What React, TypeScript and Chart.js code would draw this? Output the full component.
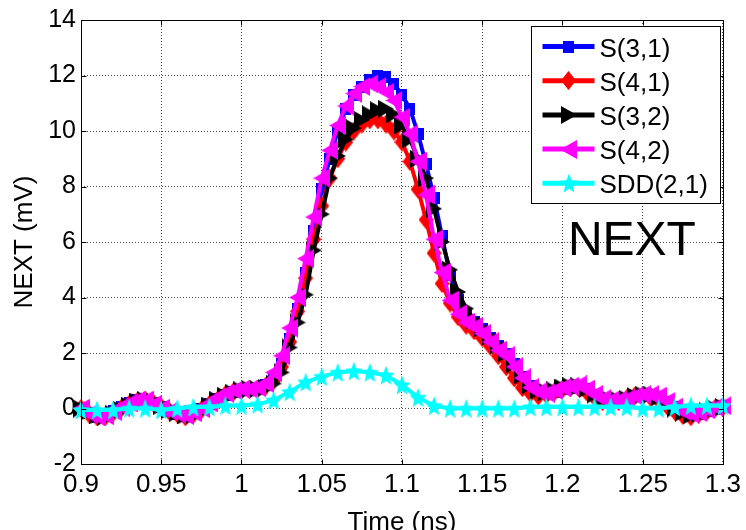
import React, { useEffect, useRef } from 'react';
import { Chart, registerables } from 'chart.js';

Chart.register(...registerables);

// ---------------- DATA ----------------
const timeS = [
  0.900, 0.905, 0.910, 0.915, 0.920, 0.925, 0.930, 0.935, 0.940, 0.945,
  0.950, 0.955, 0.960, 0.965, 0.970, 0.975, 0.980, 0.985, 0.990, 0.995,
  1.000, 1.005, 1.010, 1.015, 1.020, 1.025, 1.030, 1.035, 1.040, 1.045,
  1.050, 1.055, 1.060, 1.065, 1.070, 1.075, 1.080, 1.085, 1.090, 1.095,
  1.100, 1.105, 1.110, 1.115, 1.120, 1.125, 1.130, 1.135, 1.140, 1.145,
  1.150, 1.155, 1.160, 1.165, 1.170, 1.175, 1.180, 1.185, 1.190, 1.195,
  1.200, 1.205, 1.210, 1.215, 1.220, 1.225, 1.230, 1.235, 1.240, 1.245,
  1.250, 1.255, 1.260, 1.265, 1.270, 1.275, 1.280, 1.285, 1.290, 1.295,
  1.300,
];

const s31 = [
  0, -0.15, -0.3, -0.25, -0.1, 0.05, 0.2, 0.3, 0.3, 0.2,
  0.05, -0.1, -0.2, -0.25, -0.15, 0.0, 0.15, 0.35, 0.5, 0.6,
  0.65, 0.7, 0.7, 0.85, 1.1, 1.6, 2.5, 3.6, 4.9, 6.4,
  7.9, 9.0, 10.0, 10.8, 11.3, 11.6, 11.85, 12.0, 11.95, 11.7,
  11.3, 10.8, 9.9, 8.8, 7.6, 6.2, 4.8, 3.9, 3.4, 3.1,
  2.85, 2.55, 2.25, 1.95, 1.6, 1.15, 0.8, 0.6, 0.55, 0.6,
  0.7, 0.75, 0.8, 0.7, 0.5, 0.35, 0.25, 0.3, 0.35, 0.45,
  0.5, 0.5, 0.4, 0.25, 0.05, -0.1, -0.2, -0.2, -0.1, 0.0,
  0.1,
];

const s41 = [
  0, -0.2, -0.3, -0.3, -0.15, 0.0, 0.15, 0.25, 0.3, 0.2,
  0.05, -0.1, -0.2, -0.3, -0.2, -0.05, 0.15, 0.3, 0.5, 0.6,
  0.65, 0.7, 0.7, 0.8, 1.0, 1.5, 2.4, 3.5, 4.7, 6.1,
  7.3, 8.3, 9.0, 9.6, 10.0, 10.25, 10.4, 10.4, 10.25, 10.0,
  9.6, 8.9, 7.9, 6.8, 5.6, 4.5, 3.8, 3.3, 3.0, 2.8,
  2.55, 2.25, 1.9, 1.5, 1.1, 0.75, 0.55, 0.45, 0.5, 0.6,
  0.7, 0.75, 0.75, 0.6, 0.4, 0.25, 0.2, 0.25, 0.35, 0.45,
  0.45, 0.4, 0.3, 0.1, -0.1, -0.25, -0.3, -0.2, -0.1, 0.0,
  0.05,
];

const s32 = [
  0, -0.1, -0.25, -0.3, -0.2, -0.05, 0.1, 0.25, 0.3, 0.25,
  0.1, -0.05, -0.15, -0.25, -0.25, -0.1, 0.1, 0.3, 0.45, 0.55,
  0.65, 0.7, 0.7, 0.75, 0.9, 1.3, 2.2, 3.1, 4.1, 5.7,
  7.0, 8.3, 9.1, 9.7, 10.1, 10.4, 10.6, 10.75, 10.8, 10.6,
  10.2, 9.7, 9.0, 8.3, 7.2, 6.0, 5.0, 4.2, 3.6, 3.2,
  2.9, 2.6, 2.3, 2.0, 1.6, 1.2, 0.85, 0.65, 0.6, 0.65,
  0.75, 0.8, 0.8, 0.7, 0.5, 0.35, 0.3, 0.3, 0.35, 0.45,
  0.5, 0.5, 0.4, 0.2, 0.0, -0.15, -0.25, -0.2, -0.1, 0.0,
  0.05,
];

const s42 = [
  0, -0.2, -0.3, -0.25, -0.1, 0.05, 0.2, 0.3, 0.3, 0.15,
  0.0, -0.1, -0.2, -0.25, -0.15, 0.0, 0.2, 0.4, 0.55, 0.65,
  0.7, 0.7, 0.75, 0.9, 1.3, 1.9, 2.9, 4.0, 5.4, 6.9,
  8.3, 9.3, 10.2, 10.9, 11.35, 11.6, 11.7, 11.6, 11.4, 11.1,
  10.5, 9.9, 8.9, 7.7, 6.1, 4.9, 3.9, 3.4, 3.1, 2.95,
  2.7, 2.4, 2.1, 1.9, 1.5, 1.1, 0.75, 0.6, 0.55, 0.65,
  0.75, 0.8, 0.85, 0.7, 0.5, 0.35, 0.3, 0.3, 0.35, 0.45,
  0.5, 0.5, 0.45, 0.25, 0.05, -0.1, -0.2, -0.15, -0.05, 0.05,
  0.1,
];

const timeSDD = [
  0.90, 0.91, 0.92, 0.93, 0.94, 0.95, 0.96, 0.97, 0.98, 0.99,
  1.00, 1.01, 1.02, 1.03, 1.04, 1.05, 1.06, 1.07, 1.08, 1.09,
  1.10, 1.11, 1.12, 1.13, 1.14, 1.15, 1.16, 1.17, 1.18, 1.19,
  1.20, 1.21, 1.22, 1.23, 1.24, 1.25, 1.26, 1.27, 1.28, 1.29,
  1.30,
];

const sdd21 = [
  -0.05, -0.05, -0.05, 0.0, 0.0, -0.05, 0.0, 0.05, 0.05, 0.1,
  0.1, 0.15, 0.3, 0.6, 0.95, 1.15, 1.3, 1.35, 1.3, 1.2,
  0.85, 0.4, 0.1, 0.0, 0.0, 0.0, 0.0, 0.0, 0.05, 0.05,
  0.05, 0.05, 0.05, 0.05, 0.05, 0.0, 0.0, 0.05, 0.1, 0.1,
  0.1,
];

const seriesNames = ['S(3,1)', 'S(4,1)', 'S(3,2)', 'S(4,2)', 'SDD(2,1)'];
const xTickValues = [0.9, 0.95, 1.0, 1.05, 1.1, 1.15, 1.2, 1.25, 1.3];
const xTickLabels = ['0.9', '0.95', '1', '1.05', '1.1', '1.15', '1.2', '1.25', '1.3'];
const yTickValues = [-2, 0, 2, 4, 6, 8, 10, 12, 14];
const yTickLabels = ['-2', '0', '2', '4', '6', '8', '10', '12', '14'];
const xAxisTitle = 'Time (ns)';
const yAxisTitle = 'NEXT (mV)';
const annotationText = 'NEXT';
const annotationAt = { x: 1.2433, y: 6.0 };

// ---------------- STYLE ----------------
const SANS = "'Liberation Sans', Arial, Helvetica, sans-serif";

function makeMarker(shape: string, color: string, w: number, h: number) {
  const c = document.createElement('canvas');
  c.width = w;
  c.height = h;
  const ctx = c.getContext('2d') as CanvasRenderingContext2D;
  ctx.fillStyle = color;
  ctx.beginPath();
  if (shape === 'square') {
    ctx.rect(0, 0, w, h);
  } else if (shape === 'diamond') {
    ctx.moveTo(w / 2, 0);
    ctx.lineTo(w, h / 2);
    ctx.lineTo(w / 2, h);
    ctx.lineTo(0, h / 2);
    ctx.closePath();
  } else if (shape === 'triRight') {
    ctx.moveTo(0, 0);
    ctx.lineTo(w, h / 2);
    ctx.lineTo(0, h);
    ctx.closePath();
  } else if (shape === 'triLeft') {
    ctx.moveTo(w, 0);
    ctx.lineTo(0, h / 2);
    ctx.lineTo(w, h);
    ctx.closePath();
  } else if (shape === 'star') {
    const cx = w / 2;
    const cy = h / 2 + h * 0.05;
    const rx = w / 2;
    const ry = (h / 2) * 1.05;
    for (let k = 0; k < 10; k++) {
      const a = -Math.PI / 2 + (k * Math.PI) / 5;
      const r = k % 2 === 0 ? 1 : 0.45;
      const px = cx + Math.cos(a) * rx * r;
      const py = cy + Math.sin(a) * ry * r;
      if (k === 0) ctx.moveTo(px, py);
      else ctx.lineTo(px, py);
    }
    ctx.closePath();
  }
  ctx.fill();
  return c;
}

export default function App() {
  const ref = useRef<HTMLCanvasElement>(null);

  useEffect(() => {
    document.body.style.margin = '0';
    const colors = ['#0000ff', '#ff0000', '#000000', '#ff00ff', '#00ffff'];
    const markers = [
      makeMarker('square', colors[0], 11, 12),
      makeMarker('diamond', colors[1], 15, 19),
      makeMarker('triRight', colors[2], 16, 18),
      makeMarker('triLeft', colors[3], 17, 19),
      makeMarker('star', colors[4], 18, 20),
    ];
    const seriesY = [s31, s41, s32, s42, sdd21];
    const seriesX = [timeS, timeS, timeS, timeS, timeSDD];
    const orders = [5, 4, 3, 2, 1];

    const datasets = seriesNames.map((name, i) => ({
      label: name,
      data: seriesX[i].map((t, j) => ({ x: t, y: seriesY[i][j] })),
      borderColor: colors[i],
      backgroundColor: colors[i],
      borderWidth: 4,
      pointStyle: markers[i] as any,
      pointRadius: 8,
      tension: 0,
      order: orders[i],
      clip: false as any,
    }));

    const decor = {
      id: 'decor',
      afterDraw(chart: any) {
        const { ctx, chartArea: a, scales } = chart;
        const L = Math.round(a.left) + 0.5;
        const R = Math.round(a.right) + 0.5;
        const T = Math.round(a.top) + 0.5;
        const B = Math.round(a.bottom) + 0.5;
        ctx.save();
        // frame
        ctx.strokeStyle = '#000';
        ctx.lineWidth = 1;
        ctx.setLineDash([]);
        ctx.strokeRect(L, T, R - L, B - T);
        // inward ticks
        ctx.beginPath();
        xTickValues.forEach((v) => {
          const px = Math.round(scales.x.getPixelForValue(v)) + 0.5;
          ctx.moveTo(px, B);
          ctx.lineTo(px, B - 5);
          ctx.moveTo(px, T);
          ctx.lineTo(px, T + 5);
        });
        yTickValues.forEach((v) => {
          const py = Math.round(scales.y.getPixelForValue(v)) + 0.5;
          ctx.moveTo(L, py);
          ctx.lineTo(L + 5, py);
          ctx.moveTo(R, py);
          ctx.lineTo(R - 5, py);
        });
        ctx.stroke();

        // annotation
        ctx.fillStyle = '#000';
        ctx.font = `48px ${SANS}`;
        ctx.textAlign = 'center';
        ctx.textBaseline = 'middle';
        ctx.fillText(
          annotationText,
          scales.x.getPixelForValue(annotationAt.x),
          scales.y.getPixelForValue(annotationAt.y)
        );

        // legend
        const bw = 189;
        const bh = 177;
        const bx = Math.round(a.right) - 3 - bw + 0.5;
        const by = Math.round(a.top) + 6 + 0.5;
        ctx.fillStyle = '#fff';
        ctx.fillRect(bx, by, bw, bh);
        ctx.strokeStyle = '#000';
        ctx.lineWidth = 1;
        ctx.strokeRect(bx, by, bw, bh);
        seriesNames.forEach((name, i) => {
          const y = by + 20 + i * 34.2;
          ctx.strokeStyle = colors[i];
          ctx.lineWidth = 5;
          ctx.beginPath();
          ctx.moveTo(bx + 11, y);
          ctx.lineTo(bx + 63, y);
          ctx.stroke();
          const m = markers[i];
          ctx.drawImage(m, Math.round(bx + 37 - m.width / 2), Math.round(y - m.height / 2));
          ctx.fillStyle = '#000';
          ctx.font = `26px ${SANS}`;
          ctx.textAlign = 'left';
          ctx.textBaseline = 'middle';
          ctx.fillText(name, bx + 68, y + 3);
        });
        ctx.restore();
      },
    };

    const chart = new Chart(ref.current as HTMLCanvasElement, {
      type: 'line',
      data: { datasets: datasets as any },
      options: {
        responsive: false,
        devicePixelRatio: 1,
        animation: false,
        layout: { padding: { left: 0, top: 19, right: 20, bottom: 0 } },
        plugins: {
          legend: { display: false },
          tooltip: { enabled: false },
        },
        scales: {
          x: {
            type: 'linear',
            min: 0.9,
            max: 1.3,
            afterBuildTicks: (scale: any) => {
              scale.ticks = xTickValues.map((v) => ({ value: v }));
            },
            afterFit: (scale: any) => {
              scale.height = 66;
            },
            ticks: {
              callback: (_v: any, i: number) => xTickLabels[i],
              font: { family: SANS, size: 26 },
              color: '#000',
              padding: 5,
              maxRotation: 0,
              autoSkip: false,
            },
            grid: { color: 'rgba(0,0,0,0.7)', lineWidth: 1, drawTicks: false },
            border: { display: false, dash: [1, 2] },
            title: {
              display: true,
              text: xAxisTitle,
              font: { family: SANS, size: 26 },
              color: '#000',
              padding: { top: 0, bottom: -8 },
            },
          },
          y: {
            type: 'linear',
            min: -2,
            max: 14,
            afterBuildTicks: (scale: any) => {
              scale.ticks = yTickValues.map((v) => ({ value: v }));
            },
            afterFit: (scale: any) => {
              scale.width = 81;
            },
            ticks: {
              callback: (_v: any, i: number) => yTickLabels[i],
              font: { family: SANS, size: 25 },
              color: '#000',
              padding: 5,
              autoSkip: false,
            },
            grid: { color: 'rgba(0,0,0,0.7)', lineWidth: 1, drawTicks: false },
            border: { display: false, dash: [1, 2] },
            title: {
              display: true,
              text: yAxisTitle,
              font: { family: SANS, size: 26 },
              color: '#000',
              padding: { top: 9, bottom: 0 },
            },
          },
        },
      },
      plugins: [decor],
    });
    return () => chart.destroy();
  }, []);

  return (
    <div style={{ width: 746, height: 530 }}>
      <canvas ref={ref} width={746} height={530} style={{ display: 'block', width: 746, height: 530 }} />
    </div>
  );
}
